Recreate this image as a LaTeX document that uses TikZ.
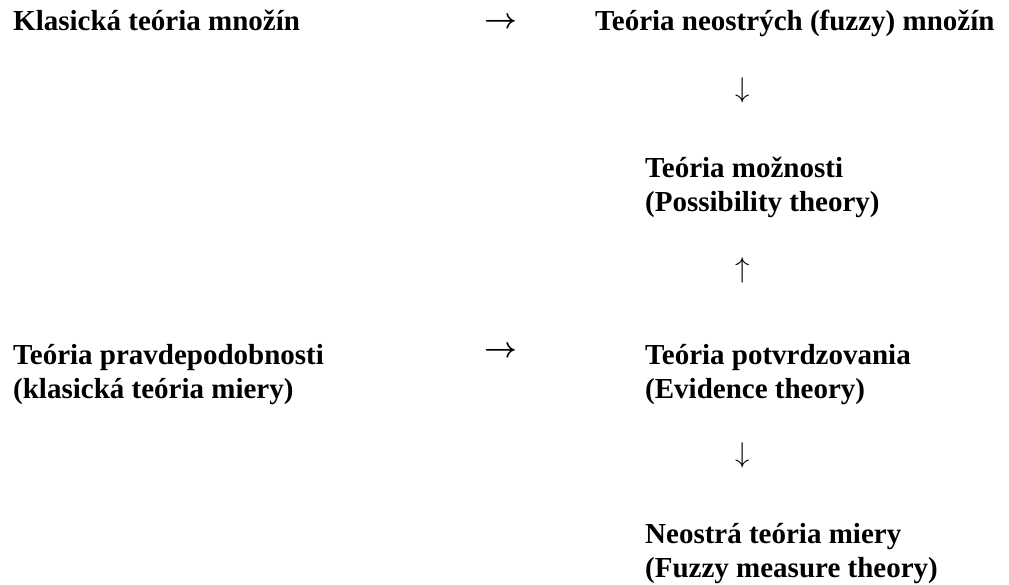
\documentclass[tikz,border=0pt]{standalone}
\usepackage{fontspec}
\setmainfont{Liberation Serif}
\usetikzlibrary{positioning}

\begin{document}
\begin{tikzpicture}[x=1pt,y=-1pt]
\tikzstyle{every node}+=[inner sep=0pt]
\tikzstyle{term}=[anchor=base west,align=left,font=\fontsize{29}{34}\selectfont\bfseries]
\tikzstyle{sign}=[anchor=center,font=\fontsize{24.88}{30}\selectfont]
\tikzstyle{boldsign}=[sign,font=\fontsize{24.88}{30}\selectfont\boldmath]
\useasboundingbox (0,0) rectangle (1009,584);
% theories (base = last line)
\node [term] (klas) at (13,30) {Klasická teória množín};
\node [term] (fuzzy) at (595,30) {Teória neostrých (fuzzy) množín};
\node [term] (moz) at (645,211) {Teória možnosti\\(Possibility theory)};
\node [term] (prav) at (13,398) {Teória pravdepodobnosti\\(klasická teória miery)};
\node [term] (potv) at (645,398) {Teória potvrdzovania\\(Evidence theory)};
\node [term] (neos) at (645,577) {Neostrá teória miery\\(Fuzzy measure theory)};
% arrows
\node [boldsign] (a1) at (501,23) {\scalebox{1.15}{$\rightarrow$}};
\node [sign] (a2) at (743,90) {\scalebox{1.15}{$\downarrow$}};
\node [sign] (a3) at (743,270) {\scalebox{1.15}{$\uparrow$}};
\node [boldsign] (a4) at (501,352) {\scalebox{1.15}{$\rightarrow$}};
\node [sign] (a5) at (743,455) {\scalebox{1.15}{$\downarrow$}};
\end{tikzpicture}
\end{document}
